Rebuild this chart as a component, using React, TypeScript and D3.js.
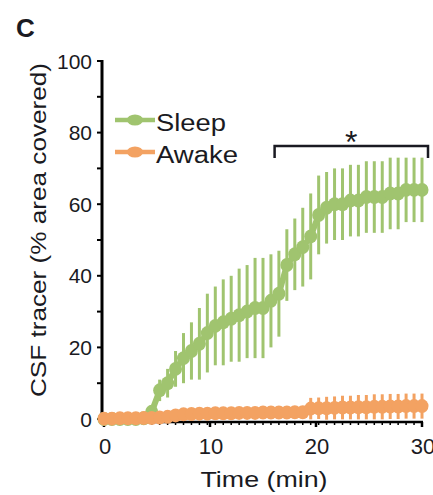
import React, { useEffect, useRef } from 'react';
import * as d3 from 'd3';

// sampling every 0.75 min, 0..30
const TIMES = d3.range(0, 30.0001, 0.75);
const SLEEP_MEAN = [
  0, 0, 0, 0, 0, 0.2, 2, 8, 10, 14, 17, 19, 21, 24, 26, 27, 28, 29, 30, 31, 31,
  33, 35, 43, 46, 48, 51, 57, 59, 60, 60, 61, 61, 62, 62, 62, 63, 63, 64, 64, 64,
];
const SLEEP_ERR = [
  0, 0, 0, 0, 0, 0, 1, 3, 4, 5, 7, 8, 10, 11, 11, 12, 12, 13, 13, 14, 14,
  13, 12, 10, 10, 11, 12, 11, 10, 10, 10, 10, 10, 10, 10, 10, 10, 10, 9, 9, 9,
];
const AWAKE_MEAN = [
  0.1, 0.1, 0.2, 0.2, 0.2, 0.3, 0.3, 0.4, 0.6, 1.0, 1.3, 1.4, 1.5, 1.5, 1.6, 1.6, 1.6,
  1.7, 1.7, 1.7, 1.8, 1.8, 1.8, 1.8, 1.9, 1.9, 2.9, 3.0, 3.0, 3.1, 3.2, 3.2, 3.3, 3.3,
  3.4, 3.4, 3.5, 3.5, 3.6, 3.6, 3.6,
];
const AWAKE_ERR = [
  0.8, 0.8, 0.8, 0.8, 0.8, 0.8, 0.8, 0.8, 1, 1.2, 1.3, 1.4, 1.4, 1.5, 1.5, 1.5, 1.5,
  1.5, 1.5, 1.5, 1.5, 1.5, 1.5, 1.5, 1.5, 1.5, 3, 3, 3.2, 3.2, 3.3, 3.3, 3.4, 3.4,
  3.5, 3.5, 3.5, 3.5, 3.5, 3.5, 3.5,
];
const Y_TICKS = [0, 20, 40, 60, 80, 100];
const X_TICKS = [0, 10, 20, 30];
const SIG_RANGE = [16, 30];

const GREEN = '#a0c46f';
const ORANGE = '#f3a262';
const INK = '#1a1a22';
const FONT = 'Liberation Sans, Arial, sans-serif';

export default function App() {
  const ref = useRef<SVGSVGElement>(null);

  useEffect(() => {
    const svg = d3.select(ref.current);
    svg.selectAll('*').remove();

    const x = d3.scaleLinear().domain([0, 30]).range([104, 422]);
    const y = d3.scaleLinear().domain([0, 100]).range([419, 61]);

    // panel letter
    svg.append('text').attr('x', 16).attr('y', 37)
      .attr('font-family', FONT).attr('font-weight', 'bold').attr('font-size', 26)
      .attr('fill', INK).text('C');

    // y axis
    svg.append('line').attr('x1', 102).attr('x2', 102).attr('y1', 60).attr('y2', 423)
      .attr('stroke', '#000').attr('stroke-width', 3);
    d3.range(0, 101, 10).forEach((v) => {
      svg.append('line').attr('x1', 97).attr('x2', 102).attr('y1', y(v)).attr('y2', y(v))
        .attr('stroke', '#000').attr('stroke-width', 2);
    });
    Y_TICKS.forEach((v) => {
      svg.append('text').attr('x', 92).attr('y', y(v) + 7.5)
        .attr('text-anchor', 'end').attr('font-family', FONT).attr('font-size', 21)
        .attr('fill', INK).text(v);
    });

    // x axis
    svg.append('line').attr('x1', 101).attr('x2', 423).attr('y1', 422).attr('y2', 422)
      .attr('stroke', '#000').attr('stroke-width', 2.5);
    TIMES.forEach((t) => {
      svg.append('line').attr('x1', x(t)).attr('x2', x(t)).attr('y1', 422).attr('y2', 425)
        .attr('stroke', '#000').attr('stroke-width', 1.5);
    });
    X_TICKS.forEach((t) => {
      svg.append('line').attr('x1', x(t)).attr('x2', x(t)).attr('y1', 422).attr('y2', 427)
        .attr('stroke', '#000').attr('stroke-width', 2.5);
      svg.append('text').attr('x', x(t) + 1).attr('y', 454)
        .attr('text-anchor', 'middle').attr('font-family', FONT).attr('font-size', 22)
        .attr('fill', INK).text(t);
    });

    // axis titles
    svg.append('text').attr('x', 264).attr('y', 487)
      .attr('text-anchor', 'middle').attr('font-family', FONT).attr('font-size', 22)
      .attr('textLength', 127).attr('lengthAdjust', 'spacingAndGlyphs')
      .attr('fill', INK).text('Time (min)');
    svg.append('text').attr('transform', 'translate(46,230) rotate(-90)')
      .attr('text-anchor', 'middle').attr('font-family', FONT).attr('font-size', 22)
      .attr('textLength', 334).attr('lengthAdjust', 'spacingAndGlyphs')
      .attr('fill', INK).text('CSF tracer (% area covered)');

    const drawSeries = (mean: number[], err: number[], color: string) => {
      const g = svg.append('g');
      TIMES.forEach((t, i) => {
        if (err[i] <= 0) return;
        g.append('line').attr('x1', x(t)).attr('x2', x(t))
          .attr('y1', y(mean[i] - err[i])).attr('y2', y(mean[i] + err[i]))
          .attr('stroke', color).attr('stroke-width', 3);
      });
      const line = d3.line<number>().x((_, i) => x(TIMES[i])).y((d) => y(d));
      g.append('path').datum(mean).attr('d', line).attr('fill', 'none')
        .attr('stroke', color).attr('stroke-width', 6);
      mean.forEach((m, i) => {
        g.append('ellipse').attr('cx', x(TIMES[i])).attr('cy', y(m))
          .attr('rx', 6.5).attr('ry', 7).attr('fill', color);
      });
    };
    drawSeries(SLEEP_MEAN, SLEEP_ERR, GREEN);
    drawSeries(AWAKE_MEAN, AWAKE_ERR, ORANGE);

    // legend
    const legend = [
      { label: 'Sleep', color: GREEN, y: 120, len: 70 },
      { label: 'Awake', color: ORANGE, y: 152, len: 82 },
    ];
    legend.forEach((l) => {
      svg.append('line').attr('x1', 115).attr('x2', 155).attr('y1', l.y).attr('y2', l.y)
        .attr('stroke', l.color).attr('stroke-width', 4.5);
      svg.append('ellipse').attr('cx', 135).attr('cy', l.y).attr('rx', 8).attr('ry', 5.5)
        .attr('fill', l.color);
      svg.append('text').attr('x', 156).attr('y', l.y + 11)
        .attr('font-family', FONT).attr('font-size', 23)
        .attr('textLength', l.len).attr('lengthAdjust', 'spacingAndGlyphs')
        .attr('fill', INK).text(l.label);
    });

    // significance bracket
    const bx0 = x(SIG_RANGE[0]) + 1;
    const bx1 = x(SIG_RANGE[1]) + 6;
    svg.append('path')
      .attr('d', `M${bx0},158 V146 H${bx1} V158`)
      .attr('fill', 'none').attr('stroke', INK).attr('stroke-width', 2.5);
    svg.append('text').attr('x', (bx0 + bx1) / 2).attr('y', 153)
      .attr('text-anchor', 'middle').attr('font-family', FONT).attr('font-size', 32)
      .attr('fill', INK).text('*');
  }, []);

  return (
    <div style={{ position: 'fixed', left: 0, top: 0 }}>
      <svg ref={ref} width={433} height={495} style={{ display: 'block', background: '#fff' }} />
    </div>
  );
}
